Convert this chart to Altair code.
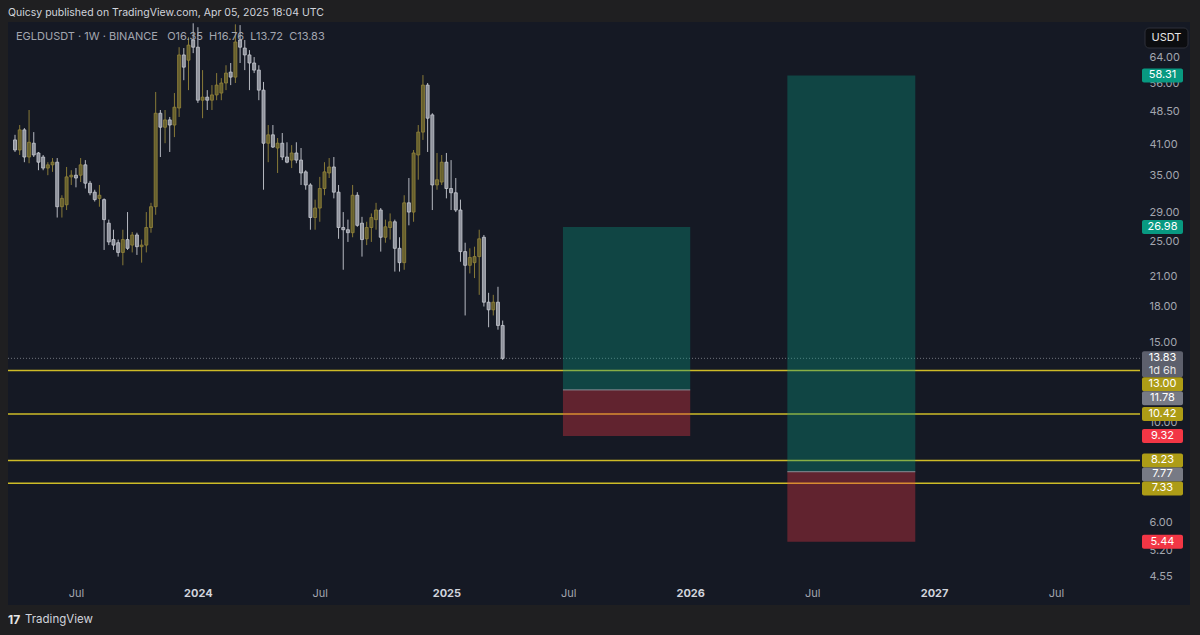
import math
import altair as alt
import pandas as pd

# ---------------- data ----------------
FIRST_WEEK = "2023-04-03"   # weekly candles, Monday opens
opens = [42.0, 39.9, 44.2, 38.5, 41.3, 39.3, 38.5, 36.4, 37.0, 37.5,
         29.9, 30.2, 34.8, 35.1, 35.1, 37.0, 33.7, 32.2, 31.2, 31.0,
         27.5, 25.3, 24.9, 23.7, 25.3, 24.6, 25.9, 24.4, 24.6, 26.9,
         29.9, 48.1, 44.8, 46.5, 45.3, 49.4, 64.7, 63.0, 69.8, 67.3,
         51.4, 52.2, 51.4, 52.8, 53.3, 56.1, 59.3, 57.8, 69.8, 67.0,
         64.7, 62.1, 59.9, 54.1, 41.3, 43.1, 40.3, 41.3, 38.5, 37.9,
         39.3, 37.9, 35.7, 33.4, 28.3, 29.7, 32.8, 35.5, 36.6, 32.2,
         26.9, 26.6, 26.2, 31.7, 27.5, 25.4, 26.9, 28.0, 29.4, 25.6,
         26.9, 27.7, 24.2, 22.5, 30.5, 29.1, 38.9, 43.7, 55.5, 47.7,
         33.4, 33.9, 37.5, 32.8, 32.1, 29.4, 23.8, 22.2, 22.5, 23.2,
         25.6, 18.4, 17.7, 18.4, 16.35]
highs = [43.1, 45.3, 44.6, 48.9, 43.7, 39.5, 38.9, 37.5, 38.3, 38.3,
         31.7, 36.6, 36.0, 36.4, 38.3, 37.9, 34.1, 32.6, 33.4, 31.2,
         28.0, 26.6, 25.3, 26.6, 29.1, 26.3, 26.2, 25.3, 29.1, 30.5,
         53.6, 48.9, 48.9, 47.2, 53.3, 67.3, 67.0, 70.8, 76.0, 74.5,
         59.9, 54.1, 55.5, 59.0, 57.5, 61.4, 62.1, 75.6, 75.3, 69.8,
         66.3, 64.0, 61.4, 56.4, 45.3, 45.3, 42.4, 43.5, 41.5, 40.9,
         41.5, 40.3, 36.0, 33.7, 31.0, 34.8, 37.5, 38.3, 38.5, 33.4,
         29.1, 28.0, 33.4, 32.2, 28.4, 27.7, 28.9, 30.5, 29.7, 28.0,
         28.9, 28.0, 25.6, 31.7, 34.6, 39.9, 45.3, 58.4, 56.1, 48.1,
         39.3, 38.9, 39.3, 37.9, 34.6, 31.0, 24.9, 24.2, 24.4, 26.6,
         25.9, 19.3, 19.1, 19.9, 16.76]
lows = [39.5, 38.9, 37.5, 37.3, 38.5, 36.0, 36.0, 35.1, 35.7, 28.3,
        28.3, 29.4, 33.4, 33.0, 33.9, 32.8, 31.7, 30.7, 29.9, 24.0,
        24.6, 24.0, 23.2, 22.2, 24.0, 23.7, 23.4, 22.5, 23.7, 26.2,
        28.7, 38.5, 41.3, 39.5, 42.6, 47.2, 56.9, 54.1, 65.3, 50.7,
        46.9, 48.9, 48.9, 51.4, 51.4, 54.1, 55.5, 56.1, 62.1, 59.9,
        54.1, 59.0, 51.4, 32.6, 37.5, 40.3, 35.5, 37.9, 37.3, 36.4,
        37.3, 33.4, 32.6, 26.6, 26.6, 27.7, 31.7, 34.6, 31.2, 25.4,
        21.7, 25.0, 25.6, 27.0, 23.2, 24.6, 25.0, 26.6, 23.8, 24.9,
        25.3, 21.5, 21.5, 21.7, 27.2, 27.7, 34.3, 42.0, 39.5, 29.4,
        32.6, 33.4, 31.2, 29.4, 29.1, 22.6, 17.2, 21.3, 20.8, 19.1,
        18.0, 16.2, 17.2, 16.0, 13.72]
closes = [39.9, 44.2, 38.5, 41.5, 38.9, 37.5, 36.4, 37.0, 37.5, 29.9,
          31.2, 34.8, 35.1, 34.6, 37.0, 33.7, 32.1, 31.0, 31.7, 28.0,
          25.0, 24.6, 23.7, 25.3, 24.2, 25.9, 24.4, 24.6, 26.9, 29.9,
          48.1, 44.8, 46.5, 45.3, 49.6, 64.7, 60.8, 68.0, 67.3, 51.4,
          52.2, 51.4, 52.8, 55.5, 56.1, 59.0, 57.8, 69.1, 67.3, 64.7,
          62.1, 59.9, 54.1, 41.3, 43.1, 40.5, 41.3, 38.5, 37.5, 39.3,
          37.9, 35.5, 33.4, 28.3, 29.7, 32.8, 35.7, 36.6, 32.2, 26.9,
          26.6, 26.2, 31.7, 27.2, 25.3, 26.9, 28.3, 29.4, 25.6, 27.0,
          27.7, 24.2, 22.5, 30.5, 29.1, 39.3, 43.7, 55.5, 46.9, 33.4,
          34.3, 37.5, 32.8, 32.1, 29.4, 23.8, 22.2, 23.1, 23.2, 25.4,
          18.4, 17.7, 18.4, 16.35, 13.83]

# horizontal yellow levels
level_prices = [13.00, 10.42, 8.23, 7.33]
last_price = 13.83

# long-position boxes
pos_start = ["2025-06-29", "2026-05-30"]
pos_end = ["2026-01-05", "2026-12-07"]
pos_target = [26.98, 58.31]
pos_entry = [11.78, 7.77]
pos_stop = [9.32, 5.44]

# price-scale tags
tag_prices = [58.31, 26.98, 13.83, 13.00, 11.78, 10.42, 9.32, 8.23, 7.77, 7.33, 5.44]
tag_labels = ["58.31", "26.98", "13.83", "13.00", "11.78", "10.42", "9.32", "8.23", "7.77", "7.33", "5.44"]
tag_subs = ["", "", "1d 6h", "", "", "", "", "", "", "", ""]
tag_colors = ["#089981", "#089981", "#5d606d", "#ad9c16", "#777a85", "#ad9c16",
              "#f23645", "#ad9c16", "#777a85", "#ad9c16", "#f23645"]

y_ticks = [4.55, 5.2, 6.0, 10.0, 15.0, 18.0, 21.0, 25.0, 29.0, 35.0, 41.0, 48.5, 56.0, 64.0]
x_tick_days = [(2023, 7, 3), (2024, 1, 1), (2024, 7, 1), (2025, 1, 6), (2025, 7, 7),
               (2026, 1, 5), (2026, 7, 6), (2027, 1, 4), (2027, 7, 5)]

# ---------------- layout ----------------
PLOT_W, PLOT_H = 1132, 558
Y_MIN, Y_MAX = 4.48, 76.5
NAVY = "#151924"
FRAME = "#1f1f21"
FONT = "Inter"
NB = "\u00a0"

dates = pd.date_range(FIRST_WEEK, periods=len(opens), freq="7D").strftime("%Y-%m-%d")
candles = pd.DataFrame({"date": dates, "open": opens, "high": highs,
                        "low": lows, "close": closes})
candles["dir"] = ["up" if c >= o else "down" for o, c in zip(opens, closes)]

levels = pd.DataFrame({"price": level_prices})
lastdf = pd.DataFrame({"price": [last_price]})
pos = pd.DataFrame({"start": pos_start, "end": pos_end, "target": pos_target,
                    "entry": pos_entry, "stop": pos_stop})

# stack the price tags so they do not overlap (as the price scale does)
px_per_log = PLOT_H / math.log(Y_MAX / Y_MIN)
def to_px(p):
    return math.log(Y_MAX / p) * px_per_log
def to_price(px):
    return Y_MAX / math.exp(px / px_per_log)

rows = []
prev_bottom = -1e9
for p, lab, sub, col in sorted(zip(tag_prices, tag_labels, tag_subs, tag_colors), key=lambda t: -t[0]):
    h = 26 if sub else 14
    top = max(to_px(p) - 7, prev_bottom)
    bottom = top + h
    prev_bottom = bottom
    rows.append({"top": to_price(top), "bot": to_price(bottom), "mid": to_price(top + 7),
                 "sub_mid": to_price(top + 20), "label": lab, "sub": sub, "color": col})
tags = pd.DataFrame(rows)
subtags = tags[tags["sub"] != ""]

year_test = "utcmonth(datum.value) == 0"
x_axis = alt.Axis(
    values=[alt.DateTime(year=y, month=m, date=d, utc=True) for y, m, d in x_tick_days],
    labelExpr="utcmonth(datum.value) == 0 ? utcFormat(datum.value, '%Y') : 'Jul'",
    labelColor={"condition": {"test": year_test, "value": "#d1d4dc"}, "value": "#a3a6af"},
    labelFontWeight={"condition": {"test": year_test, "value": "bold"}, "value": "normal"},
    labelFontSize=11, labelFont=FONT, labelPadding=7, labelOverlap=False, labelFlush=False,
    ticks=False, domain=False, grid=False, title=None)
y_axis = alt.Axis(values=y_ticks, format=".2f", orient="right", labelColor="#a3a6af",
                  labelFontSize=11, labelFont=FONT, labelPadding=9, labelAlign="left",
                  ticks=False, domain=False, grid=False, title=None)

x_scale = alt.Scale(type="utc", domain=[alt.DateTime(year=2023, month=3, date=31, utc=True),
                                        alt.DateTime(year=2027, month=10, date=31, utc=True)])
y_scale = alt.Scale(type="log", domain=[Y_MIN, Y_MAX], nice=False)

def X(field):
    return alt.X(field, type="temporal", scale=x_scale, axis=x_axis)

def Y(field):
    return alt.Y(field, type="quantitative", scale=y_scale, axis=y_axis)

# ---------------- layers ----------------
level_rules = alt.Chart(levels).mark_rule(color="#cdbb27", strokeWidth=1.5).encode(y=Y("price"))
last_rule = alt.Chart(lastdf).mark_rule(color="#9598a1", strokeDash=[1, 2], strokeWidth=1,
                                        opacity=0.7).encode(y=Y("price"))

green_box = alt.Chart(pos).mark_rect(color="#089981", opacity=0.35).encode(
    x=X("start"), x2="end", y=Y("target"), y2="entry")
red_box = alt.Chart(pos).mark_rect(color="#f23645", opacity=0.35).encode(
    x=X("start"), x2="end", y=Y("entry"), y2="stop")
entry_rule = alt.Chart(pos).mark_rule(color="#8a8d96", strokeWidth=1).encode(
    x=X("start"), x2="end", y=Y("entry"))

wicks = alt.Chart(candles).mark_rule(strokeWidth=1).encode(
    x=X("date"), y=Y("low"), y2="high",
    color=alt.Color("dir:N", scale=alt.Scale(domain=["up", "down"], range=["#887a38", "#b6b9c1"]), legend=None))
bodies = alt.Chart(candles).mark_bar(width=3, strokeWidth=0.8).encode(
    x=X("date"), y=Y("open"), y2="close",
    fill=alt.Fill("dir:N", scale=alt.Scale(domain=["up", "down"], range=["#655f2e", "#8e919b"]), legend=None),
    stroke=alt.Stroke("dir:N", scale=alt.Scale(domain=["up", "down"], range=["#93843b", "#c6c9d0"]), legend=None))

def strip(x1, x2, y1, y2, color=FRAME):
    return alt.Chart(lastdf).mark_rect(color=color).encode(
        x=alt.value(x1), x2=alt.value(x2), y=alt.value(y1), y2=alt.value(y2))

frame = (strip(-8, 1192, -22, 0) + strip(-8, 1192, 583, 613) +
         strip(-8, 0, -22, 613) + strip(1182, 1192, -22, 613))

def label(text, x, y, size=12, color="#d1d4dc", weight="normal"):
    return alt.Chart(lastdf).mark_text(text=text, align="left", baseline="middle", fontSize=size,
                                       font=FONT, color=color, fontWeight=weight).encode(
        x=alt.value(x), y=alt.value(y))

title = label("Quicsy published on TradingView.com, Apr 05, 2025 18:04 UTC", 0, -9, 10.5, "#d1d4dc")
header_text = ("EGLDUSDT" + NB + "·" + NB + "1W" + NB + "·" + NB + "BINANCE" + NB * 3 +
               "O16.35" + NB * 2 + "H16.76" + NB * 2 + "L13.72" + NB * 2 + "C13.83")
header = label(header_text, 8, 15, 11, "#a3a6af")
logo = label("17", 0, 598, 12, "#e6e6e6", "bold") + label("TradingView", 17, 598, 11.5, "#d1d4dc")

usdt_box = alt.Chart(lastdf).mark_rect(color="#0c0d10", stroke="#2e313a", strokeWidth=1,
                                       cornerRadius=4).encode(
    x=alt.value(1137), x2=alt.value(1180), y=alt.value(6), y2=alt.value(26))
usdt_txt = alt.Chart(lastdf).mark_text(text="USDT", align="center", baseline="middle", fontSize=11,
                                       font=FONT, color="#e6e6e6").encode(
    x=alt.value(1158.5), y=alt.value(16))

tag_rects = alt.Chart(tags).mark_rect(cornerRadius=2).encode(
    x=alt.value(1134), x2=alt.value(1175), y=Y("top"), y2="bot",
    color=alt.Color("color:N", scale=None))
tag_text = alt.Chart(tags).mark_text(align="center", baseline="middle", fontSize=11, font=FONT,
                                     color="#ffffff").encode(
    x=alt.value(1154.5), y=Y("mid"), text="label:N")
sub_text = alt.Chart(subtags).mark_text(align="center", baseline="middle", fontSize=11, font=FONT,
                                        color="#e6e6e6").encode(
    x=alt.value(1154.5), y=Y("sub_mid"), text="sub:N")

chart = alt.layer(
    level_rules, last_rule, green_box, red_box, entry_rule, wicks, bodies,
    frame, title, header, logo, usdt_box, usdt_txt, tag_rects, tag_text, sub_text
).properties(
    width=PLOT_W, height=PLOT_H, background=NAVY,
    padding={"left": 8, "top": 22, "right": 60, "bottom": 55},
    autosize=alt.AutoSizeParams(type="none")
).configure_view(strokeWidth=0)

chart.save("out.html", embed_options={"renderer": "svg", "actions": False})
